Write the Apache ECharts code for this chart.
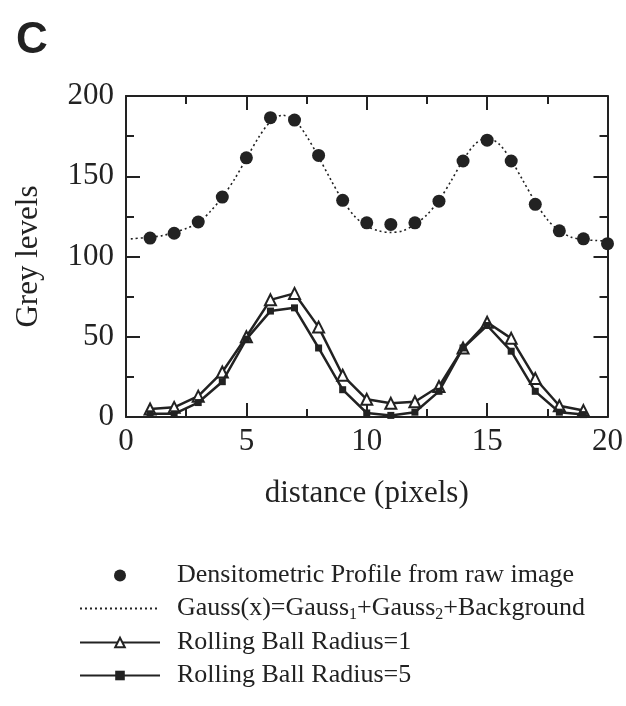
<!DOCTYPE html>
<html>
<head>
<meta charset="utf-8">
<script src="https://cdn.jsdelivr.net/npm/echarts@6/dist/echarts.min.js"></script>
<style>
  html, body { margin: 0; padding: 0; background: #fff; }
  #chart { width: 626px; height: 706px; }
</style>
</head>
<body>
<div id="chart"></div>
<script>
// raw densitometric profile (dots)
const distance = [1, 2, 3, 4, 5, 6, 7, 8, 9, 10, 11, 12, 13, 14, 15, 16, 17, 18, 19, 20]
const rawProfile = [111.5, 114.5, 121.5, 137, 161.5, 186.5, 185, 163, 135, 121, 120, 121, 134.5, 159.5, 172.5, 159.5, 132.5, 116, 111, 108]

// fitted gauss curve
const gaussX = [0.2, 1, 1.5, 2, 2.5, 3, 3.5, 4, 4.5, 5, 5.5, 6, 6.5, 7, 7.5, 8, 8.5, 9, 9.5, 10, 10.5, 11, 11.5, 12, 12.5, 13, 13.5, 14, 14.5, 15, 15.5, 16, 16.5, 17, 17.5, 18, 18.5, 19, 19.5, 20]
const gaussY = [111, 112, 113, 115, 117.5, 121, 128, 137, 148, 161, 174, 184, 188, 185, 175, 162, 148, 135, 125, 119, 116, 115, 116, 120, 126, 135, 147, 160, 170, 174, 170, 160, 147, 134, 123, 116, 112, 110.5, 110, 109.5]

// background-subtracted profiles
const ballX = [1, 2, 3, 4, 5, 6, 7, 8, 9, 10, 11, 12, 13, 14, 15, 16, 17, 18, 19]
const ball1 = [5, 6, 13, 28, 50, 73, 77, 56, 26, 11, 8.5, 9.5, 19, 43, 59, 49, 24, 7, 4]
const ball5 = [2, 2, 9, 22, 48.5, 66, 68, 43, 17, 2.5, 1, 3, 16, 43, 57, 41, 16, 3, 1.5]

const pairs = (xs, ys) => xs.map((x, i) => [x, ys[i]])

const serif = 'Liberation Serif'
const ink = '#222'

const chart = echarts.init(document.getElementById('chart'))

const baseX = {
  type: 'value',
  min: 0,
  max: 20,
  interval: 5,
  axisLine: { show: true, onZero: false, lineStyle: { color: ink, width: 2 } },
  axisTick: { inside: true, length: 14, lineStyle: { color: ink, width: 2 } },
  minorTick: { show: true, splitNumber: 2, length: 8, lineStyle: { color: ink, width: 2 } },
  splitLine: { show: false }
}
const baseY = {
  type: 'value',
  min: 0,
  max: 200,
  interval: 50,
  axisLine: { show: true, onZero: false, lineStyle: { color: ink, width: 2 } },
  axisTick: { inside: true, length: 14, lineStyle: { color: ink, width: 2 } },
  minorTick: { show: true, splitNumber: 2, length: 8, lineStyle: { color: ink, width: 2 } },
  splitLine: { show: false }
}

const option = {
  animation: false,
  backgroundColor: '#fff',
  title: {
    text: 'C',
    left: 11,
    top: 14,
    textStyle: { fontFamily: 'Liberation Sans', fontWeight: 'bold', fontSize: 44, color: ink }
  },
  grid: { left: 126, right: 16, top: 96, bottom: 289 },
  xAxis: [
    Object.assign({}, baseX, {
      position: 'bottom',
      name: 'distance (pixels)',
      nameLocation: 'middle',
      nameGap: 61,
      nameTextStyle: { fontFamily: serif, fontSize: 31, color: ink },
      axisLabel: { fontFamily: serif, fontSize: 31, color: ink, margin: 9 }
    }),
    Object.assign({}, baseX, { position: 'top', axisLabel: { show: false } })
  ],
  yAxis: [
    Object.assign({}, baseY, {
      position: 'left',
      name: 'Grey levels',
      nameLocation: 'middle',
      nameGap: 82,
      nameTextStyle: { fontFamily: serif, fontSize: 31, color: ink },
      axisLabel: { fontFamily: serif, fontSize: 31, color: ink, margin: 12 }
    }),
    Object.assign({}, baseY, { position: 'right', axisLabel: { show: false } })
  ],
  legend: {
    orient: 'vertical',
    left: 74,
    top: 557,
    itemWidth: 80,
    itemHeight: 12,
    itemGap: 6,
    selectedMode: false,
    textStyle: {
      fontFamily: serif,
      fontSize: 26,
      color: ink,
      lineHeight: 27,
      padding: [0, 0, 0, 12],
      rich: {
        a: { fontFamily: serif, fontSize: 26, color: ink },
        s: { fontFamily: serif, fontSize: 16, color: ink, padding: [13, 0, 0, 0] }
      }
    },
    formatter: function (name) {
      if (name.indexOf('Gauss(x)') === 0) {
        return '{a|Gauss(x)=Gauss}{s|1}{a|+Gauss}{s|2}{a|+Background}'
      }
      return name
    },
    data: [
      'Densitometric Profile from raw image',
      { name: 'Gauss(x)=Gauss1+Gauss2+Background', itemStyle: { opacity: 0 } },
      'Rolling Ball Radius=1',
      'Rolling Ball Radius=5'
    ]
  },
  series: [
    {
      name: 'Gauss(x)=Gauss1+Gauss2+Background',
      type: 'line',
      smooth: 0.3,
      symbol: 'none',
      data: pairs(gaussX, gaussY),
      lineStyle: { color: ink, width: 1.6, type: [2, 3] },
      itemStyle: { color: ink },
      z: 2
    },
    {
      name: 'Densitometric Profile from raw image',
      type: 'scatter',
      symbol: 'circle',
      symbolSize: 13,
      data: pairs(distance, rawProfile),
      itemStyle: { color: ink, opacity: 1 },
      z: 3
    },
    {
      name: 'Rolling Ball Radius=1',
      type: 'line',
      symbol: 'triangle',
      symbolSize: 11,
      data: pairs(ballX, ball1),
      lineStyle: { color: ink, width: 2.5 },
      itemStyle: { color: '#fff', borderColor: ink, borderWidth: 2 },
      z: 4
    },
    {
      name: 'Rolling Ball Radius=5',
      type: 'line',
      symbol: 'rect',
      symbolSize: 7,
      data: pairs(ballX, ball5),
      lineStyle: { color: ink, width: 2.5 },
      itemStyle: { color: ink },
      z: 5
    }
  ]
}

chart.setOption(option)
</script>
</body>
</html>
